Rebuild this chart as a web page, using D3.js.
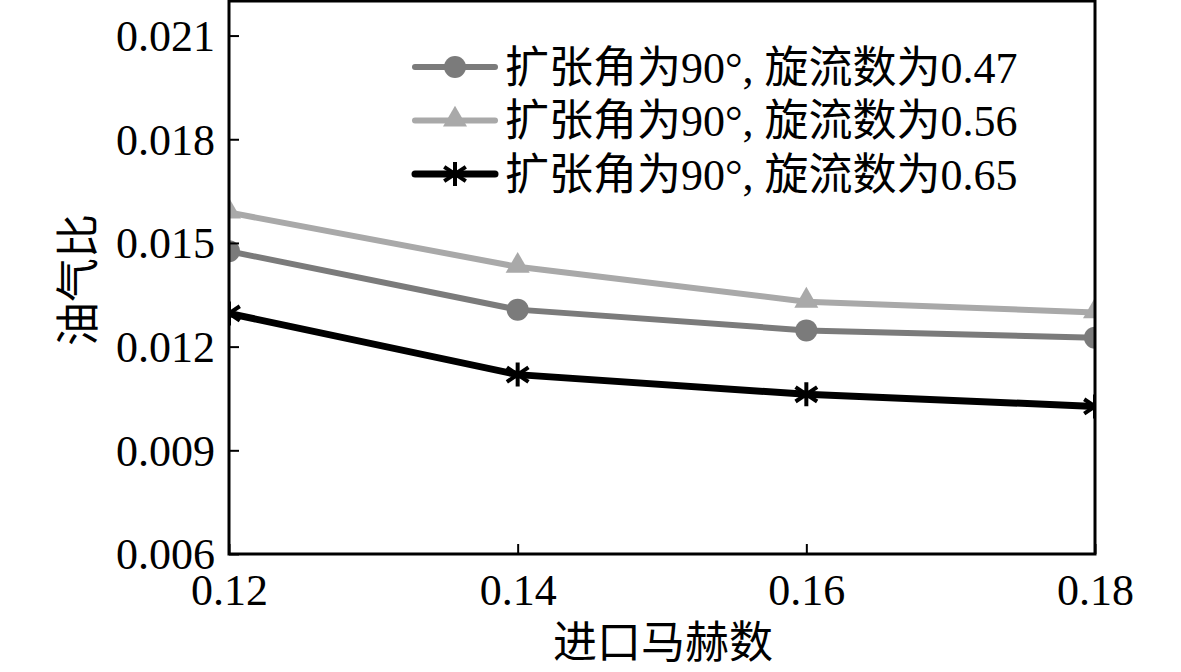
<!DOCTYPE html>
<html>
<head>
<meta charset="utf-8">
<title>油气比</title>
<script src="https://cdn.jsdelivr.net/npm/d3@7"></script>
<style>
body { margin: 0; background: #fff; }
svg text { font-family: "Liberation Serif", "Times New Roman", "Noto Sans CJK SC", serif; fill: #000; }
</style>
</head>
<body>
<script>
var machNumbers = [0.12, 0.14, 0.16, 0.18];
var seriesNames = ["扩张角为90°, 旋流数为0.47", "扩张角为90°, 旋流数为0.56", "扩张角为90°, 旋流数为0.65"];
var swirl047 = [0.01476, 0.01307, 0.01247, 0.01226];
var swirl056 = [0.01588, 0.01431, 0.01330, 0.01299];
var swirl065 = [0.01296, 0.01119, 0.01062, 0.01027];
var xTicks = [0.12, 0.14, 0.16, 0.18];
var yTicks = [0.006, 0.009, 0.012, 0.015, 0.018, 0.021];

var width = 1181, height = 672,
    margin = {left: 229, right: 86, top: 1, bottom: 118};

var svg = d3.select("body").append("svg").attr("width", width).attr("height", height);

var x = d3.scaleLinear().domain([0.12, 0.18]).range([margin.left, width - margin.right]);
var y = d3.scaleLinear().domain([0.006, 0.022]).range([height - margin.bottom, margin.top]);

var series = [
  {name: seriesNames[0], values: swirl047, color: "#7b7b7b", marker: "circle", lw: 6},
  {name: seriesNames[1], values: swirl056, color: "#a9a9a9", marker: "triangle", lw: 6},
  {name: seriesNames[2], values: swirl065, color: "#000000", marker: "star", lw: 7}
];

svg.append("clipPath").attr("id", "plotclip").append("rect")
  .attr("x", margin.left).attr("y", margin.top)
  .attr("width", width - margin.right - margin.left)
  .attr("height", height - margin.bottom - margin.top);

function drawMarker(g, type, color) {
  if (type === "circle") {
    g.append("circle").attr("r", 11).attr("fill", color);
  } else if (type === "triangle") {
    g.append("path").attr("d", d3.symbol().type(d3.symbolTriangle).size(250)).attr("fill", color)
      .attr("transform", "translate(0,-1)");
  } else {
    var s = 12;
    g.append("path")
      .attr("d", "M0," + (-s) + "V" + s + "M" + (-s*0.9) + "," + (-s*0.6) + "L" + (s*0.9) + "," + (s*0.6)
        + "M" + (-s*0.9) + "," + (s*0.6) + "L" + (s*0.9) + "," + (-s*0.6))
      .attr("stroke", color).attr("stroke-width", 4).attr("fill", "none");
  }
}

var plot = svg.append("g").attr("clip-path", "url(#plotclip)");
var line = d3.line().x(function(d, i) { return x(machNumbers[i]); }).y(function(d) { return y(d); });

series.forEach(function(s) {
  plot.append("path").datum(s.values).attr("d", line)
    .attr("fill", "none").attr("stroke", s.color).attr("stroke-width", s.lw);
  s.values.forEach(function(v, i) {
    drawMarker(plot.append("g").attr("transform", "translate(" + x(machNumbers[i]) + "," + y(v) + ")"), s.marker, s.color);
  });
});

// axes, ticks pointing inward
var xAxis = d3.axisBottom(x).tickValues(xTicks).tickSize(-10).tickPadding(20).tickFormat(d3.format(".2f"));
var yAxis = d3.axisLeft(y).tickValues(yTicks).tickSize(-10).tickPadding(14).tickFormat(d3.format(".3f"));

var gx = svg.append("g").attr("transform", "translate(0," + (height - margin.bottom) + ")").call(xAxis);
var gy = svg.append("g").attr("transform", "translate(" + margin.left + ",0)").call(yAxis);
[gx, gy].forEach(function(g) {
  g.attr("font-family", null).attr("font-size", null);
  g.select(".domain").remove();
  g.selectAll(".tick line").attr("stroke", "#000").attr("stroke-width", 2);
  g.selectAll(".tick text").style("font-size", "44px").attr("fill", "#000");
});
gx.selectAll(".tick text").attr("dy", "0.71em");
gy.selectAll(".tick text").attr("dy", "0.34em");

svg.append("rect")
  .attr("x", margin.left).attr("y", margin.top)
  .attr("width", width - margin.right - margin.left)
  .attr("height", height - margin.bottom - margin.top)
  .attr("fill", "none").attr("stroke", "#000").attr("stroke-width", 3);

// axis titles
svg.append("text").attr("x", 663).attr("y", 658).attr("text-anchor", "middle")
  .style("font-size", "44px").text("进口马赫数");
svg.append("text").attr("transform", "translate(94,280) rotate(-90)").attr("text-anchor", "middle")
  .style("font-size", "44px").text("油气比");

// legend
var legend = svg.append("g");
series.forEach(function(s, i) {
  var ly = 67 + i * 53.5;
  legend.append("line").attr("x1", 415).attr("x2", 495).attr("y1", ly).attr("y2", ly)
    .attr("stroke", s.color).attr("stroke-width", s.lw).attr("stroke-linecap", "round");
  drawMarker(legend.append("g").attr("transform", "translate(455," + ly + ")"), s.marker, s.color);
  legend.append("text").attr("x", 505).attr("y", ly).attr("dy", "0.36em")
    .style("font-size", "44px").text(s.name);
});
</script>
</body>
</html>
